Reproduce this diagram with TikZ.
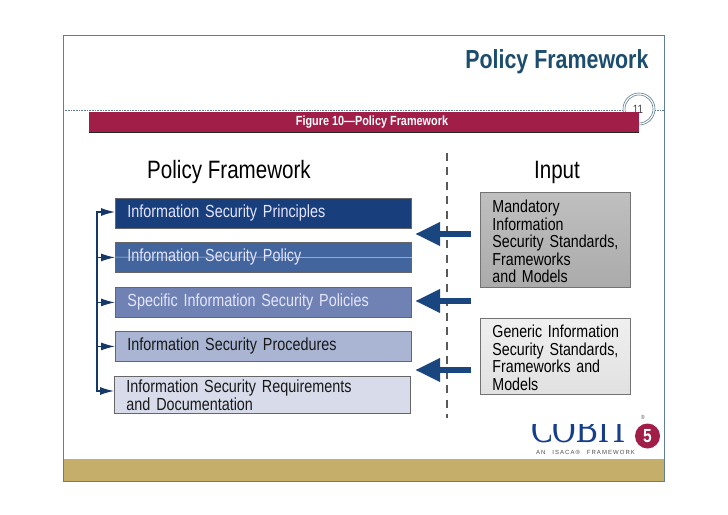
\documentclass[tikz,border=0pt]{standalone}
\usepackage{fontspec}
\usepackage{xcolor}
\usetikzlibrary{arrows.meta}
\setmainfont{Liberation Sans}[FakeStretch=0.82]
\newfontfamily\logofont{Liberation Serif}[FakeStretch=0.78]
\newfontfamily\logosubfont{Liberation Sans}[LetterSpace=18,WordSpace=2.5]

\definecolor{slideline}{HTML}{5F7F8F}
\definecolor{titleblue}{HTML}{1C4D6E}
\definecolor{barred}{HTML}{A01E48}
\definecolor{goldband}{HTML}{C4AE6A}
\definecolor{arrowblue}{HTML}{1A4680}
\definecolor{boxa}{HTML}{183F7C}
\definecolor{boxb}{HTML}{43659E}
\definecolor{boxc}{HTML}{6F82B3}
\definecolor{boxd}{HTML}{A9B5D3}
\definecolor{boxe}{HTML}{D7DBEA}

\tikzset{
  framebox/.style={draw=black!60, line width=0.9bp, anchor=north west, minimum width=296bp,
    text width=272bp, inner sep=0pt, inner xsep=12bp, align=left, font=\fontsize{17.6}{18}\selectfont},
  inputbox/.style={draw=black!55, line width=0.9bp, anchor=north west, minimum width=150bp,
    text width=126bp, inner sep=0pt, inner xsep=12bp, align=left, font=\fontsize{17.4}{17.5}\selectfont,
    execute at begin node={\rule{0pt}{15.5bp}}},
  heading/.style={font=\fontsize{25.2}{27}\selectfont},
  busline/.style={draw=arrowblue!80!black, line width=1.2bp},
  bustip/.style={busline, -{Latex[length=14bp,width=8bp]}},
  inputarrow/.style={draw=arrowblue, line width=6.5bp, -{Triangle[length=25bp,width=22bp]}}
}

\begin{document}
\begin{tikzpicture}[x=1bp, y=-1bp]
  \useasboundingbox (0,0) rectangle (728,515);

  % Draw the slide frame and the gold band
  \fill[white] (0,0) rectangle (728,515);
  \fill[goldband] (63,459) rectangle (664,481);
  \draw[slideline, line width=0.9bp] (63,35) rectangle (664,481);
  \draw[slideline, densely dotted, line width=0.6bp] (63,110) -- (664,110);

  % Slide title and page number
  \node[anchor=east, text=titleblue, font=\fontsize{26.2}{28}\bfseries\selectfont] (slidetitle) at (652,62) {Policy Framework};
  \draw[slideline, fill=white, line width=0.6bp] (639,109) circle (16);
  \draw[slideline, line width=0.6bp] (639,109) circle (14);
  \node[font=\fontsize{12}{13}\selectfont, text=black!75] (pagenum) at (638,109) {11};

  % Figure caption bar
  \fill[barred] (89,112) rectangle (639,132);
  \draw[black!85, line width=1.2bp] (89,132.5) -- (639,132.5);
  \node[text=white, font=\fontsize{13.3}{14}\bfseries\selectfont] (caption) at (372,122) {Figure 10---Policy Framework};

  % Column headings
  \node[heading] (policyhead) at (229,172) {Policy Framework};
  \node[heading] (inputhead) at (557,172) {Input};

  % Divider between the two columns
  \coordinate (divtop) at (447,153);
  \coordinate (divbot) at (447,418);
  \draw[black!65, line width=1.5bp, dash pattern=on 8bp off 6.5bp] (divtop) -- (divbot);

  % Draw the policy boxes
  \node[framebox, fill=boxa, text=white!90!blue, minimum height=30bp] (principles) at (115,198) {Information Security Principles};
  \node[framebox, fill=boxb, text=white!90!blue, minimum height=30bp] (policy) at (115,242) {Information Security Policy};
  \node[framebox, fill=boxc, text=white!90!blue, minimum height=30bp] (specific) at (115,287) {Specific Information Security Policies};
  \node[framebox, fill=boxd, text=black!90, minimum height=30bp] (procedures) at (115,331) {Information Security Procedures};
  \node[framebox, fill=boxe, text=black!90, minimum height=37bp] (requirements) at (114,376) {Information Security Requirements\\and Documentation};

  % Faint rule across the second box
  \coordinate (rulestart) at (97,257);
  \draw[white!70!boxb, line width=0.5bp] (rulestart) -- (policy.east);

  % Draw the bracket on the left with its arrows
  \coordinate (bustop) at (97,212);
  \coordinate (busbot) at (97,391);
  \draw[busline, line cap=rect] (bustop) -- (busbot);
  \draw[bustip] (bustop) -- (principles.west |- bustop);
  \draw[bustip] (policy.west -| bustop) -- (policy.west);
  \draw[bustip] (specific.west -| bustop) -- (specific.west);
  \draw[bustip] (procedures.west -| bustop) -- (procedures.west);
  \draw[bustip] (busbot) -- (requirements.west |- busbot);

  % Draw the input boxes
  \node[inputbox, top color=black!25, bottom color=black!33, minimum height=95bp] (mandatory) at (480,192) {Mandatory\\Information\\\mbox{Security Standards,}\\Frameworks\\and Models};
  \node[inputbox, top color=black!6, bottom color=black!12, minimum height=76bp] (generic) at (480,318) {\mbox{Generic Information}\\\mbox{Security Standards,}\\Frameworks and\\Models};

  % Draw the arrows from the inputs
  \coordinate (froma) at (471,234);
  \coordinate (toa) at (415,234);
  \coordinate (fromb) at (471,301);
  \coordinate (tob) at (415,301);
  \coordinate (fromc) at (471,370);
  \coordinate (toc) at (415,370);
  \draw[inputarrow] (froma) -- (toa);
  \draw[inputarrow] (fromb) -- (tob);
  \draw[inputarrow] (fromc) -- (toc);

  % Logo, cut off at the top as in the slide
  \begin{scope}
    \clip (520,424) rectangle (630,446);
    \node[anchor=base west, inner sep=0pt, text=titleblue!80!blue, font=\logofont\fontsize{42}{42}\selectfont] (logoname) at (531,442) {COBIT};
  \end{scope}
  \fill[barred] (647.5,436) circle (12.5);
  \node[text=white, font=\fontsize{19}{19}\bfseries\selectfont] (logofive) at (647.5,436) {5};
  \node[font=\fontsize{6}{7}\selectfont, text=black!70] (logoreg) at (643,417) {®};
  \node[font=\logosubfont\fontsize{6}{7}\selectfont, text=black!70] (logosub) at (585.5,452) {AN ISACA® FRAMEWORK};
\end{tikzpicture}
\end{document}
